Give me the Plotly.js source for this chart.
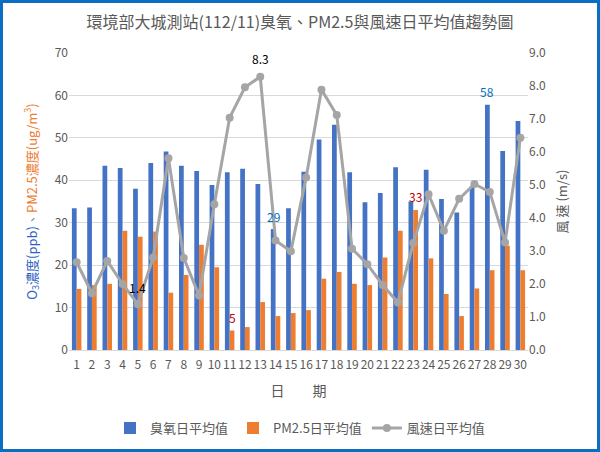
<!DOCTYPE html>
<html>
<head>
<meta charset="utf-8">
<script src="https://cdn.plot.ly/plotly-3.0.1.min.js"></script>
<style>
html,body{margin:0;padding:0;background:#fff;}
#frame{width:600px;height:452px;box-sizing:border-box;border:3px solid #0A6FC2;}
#chart{width:594px;height:446px;}
</style>
</head>
<body>
<div id="frame"><div id="chart"></div></div>
<script>
const days = [1,2,3,4,5,6,7,8,9,10,11,12,13,14,15,16,17,18,19,20,21,22,23,24,25,26,27,28,29,30];
const ozone = [33.4,33.6,43.4,42.9,38.0,44.1,46.8,43.4,42.2,38.9,41.9,42.7,39.1,28.5,33.4,42.0,49.6,53.1,41.9,34.8,37.0,43.1,35.0,42.5,35.6,32.4,38.6,57.8,46.9,54.0];
const pm25 = [14.4,15.3,15.6,28.1,26.7,27.9,13.5,17.7,24.8,19.5,4.6,5.4,11.3,8.0,8.7,9.4,16.8,18.4,15.6,15.3,21.8,28.1,33.0,21.6,13.2,8.0,14.5,18.8,24.6,18.8];
const wind = [2.66,1.72,2.70,2.00,1.39,2.80,5.81,2.79,1.65,4.42,7.04,7.96,8.28,3.32,2.99,5.23,7.89,7.12,3.07,2.60,1.97,1.44,3.24,4.72,3.61,4.58,5.03,4.79,3.26,6.43];
const seriesNames = ['臭氧日平均值','PM2.5日平均值','風速日平均值'];
const leftTicks = [0,10,20,30,40,50,60,70];
const rightTicks = [0,1,2,3,4,5,6,7,8,9];

const FONT = '"Noto Sans CJK TC", "Noto Sans", sans-serif';
const GRAY = '#595959';

const traces = [
  {type:'bar', x:days, y:ozone, name:seriesNames[0], marker:{color:'#4472C4'}, yaxis:'y'},
  {type:'bar', x:days, y:pm25, name:seriesNames[1], marker:{color:'#ED7D31'}, yaxis:'y'},
  {type:'scatter', mode:'lines+markers', x:days, y:wind, name:seriesNames[2], yaxis:'y2',
   line:{color:'#A5A5A5', width:3}, marker:{color:'#A5A5A5', size:8}}
];

const annotations = [
  {x:days[12], y:wind[12], yref:'y2', text:'8.3', color:'#000000', yshift:18, xshift:0},
  {x:days[4], y:wind[4], yref:'y2', text:'1.4', color:'#000000', yshift:17, xshift:0},
  {x:days[10], y:pm25[10], yref:'y', text:'5', color:'#C00000', yshift:13, xshift:2.4},
  {x:days[13], y:ozone[13], yref:'y', text:'29', color:'#0070C0', yshift:13, xshift:-2.4},
  {x:days[22], y:pm25[22], yref:'y', text:'33', color:'#C00000', yshift:13, xshift:2.4},
  {x:days[27], y:ozone[27], yref:'y', text:'58', color:'#0070C0', yshift:13, xshift:-2.4}
].map(a => ({x:a.x, y:a.y, xref:'x', yref:a.yref, text:a.text, showarrow:false,
  yshift:a.yshift, xshift:a.xshift, font:{family:FONT, size:12, color:a.color}}));

const layout = {
  width:594, height:446,
  margin:{l:66, r:69, t:50, b:99},
  paper_bgcolor:'#ffffff', plot_bgcolor:'#ffffff',
  font:{family:FONT, color:GRAY, size:12},
  title:{text:'環境部大城測站(112/11)臭氧、PM2.5與風速日平均值趨勢圖', x:0.5, xref:'container', xanchor:'center',
         y:0.957, yref:'container', yanchor:'middle', font:{family:FONT, size:16, color:GRAY}},
  barmode:'group', bargap:0.38, bargroupgap:0,
  xaxis:{range:[0.5,30.5], tickmode:'array', tickvals:days, ticktext:days.map(String), tickangle:0,
         showgrid:false, zeroline:false, showline:true, linecolor:'#D9D9D9', linewidth:1,
         ticks:'', ticklabelstandoff:4, tickfont:{size:12, color:GRAY},
         title:{text:'日　　期', font:{size:14, color:GRAY}, standoff:14}},
  yaxis:{range:[0,70], tickmode:'array', tickvals:leftTicks, showgrid:true, gridcolor:'#D9D9D9', gridwidth:1,
         zeroline:false, showline:false, ticks:'', tickfont:{size:12, color:GRAY},
         title:{text:'<span style="color:#2F5FC4">O<sub>3</sub>濃度(ppb)</span><span style="color:#7F7F7F">、</span><span style="color:#ED7D31">PM2.5濃度(ug/m<sup>3</sup>)</span>',
                font:{size:13}, standoff:14}},
  yaxis2:{range:[0,9], overlaying:'y', side:'right', tickmode:'array', tickvals:rightTicks,
          tickformat:'.1f', showgrid:false, zeroline:false, showline:false, ticks:'',
          tickfont:{size:12, color:GRAY},
          title:{text:'風 速 (m/s)', font:{size:13, color:GRAY}, standoff:12}},
  legend:{orientation:'h', x:0.5, xref:'container', xanchor:'center', y:0.047, yref:'container', yanchor:'middle',
          font:{size:13, color:GRAY}, traceorder:'normal'},
  annotations:annotations,
  showlegend:true
};

Plotly.newPlot('chart', traces, layout, {displayModeBar:false, staticPlot:true});
</script>
</body>
</html>
